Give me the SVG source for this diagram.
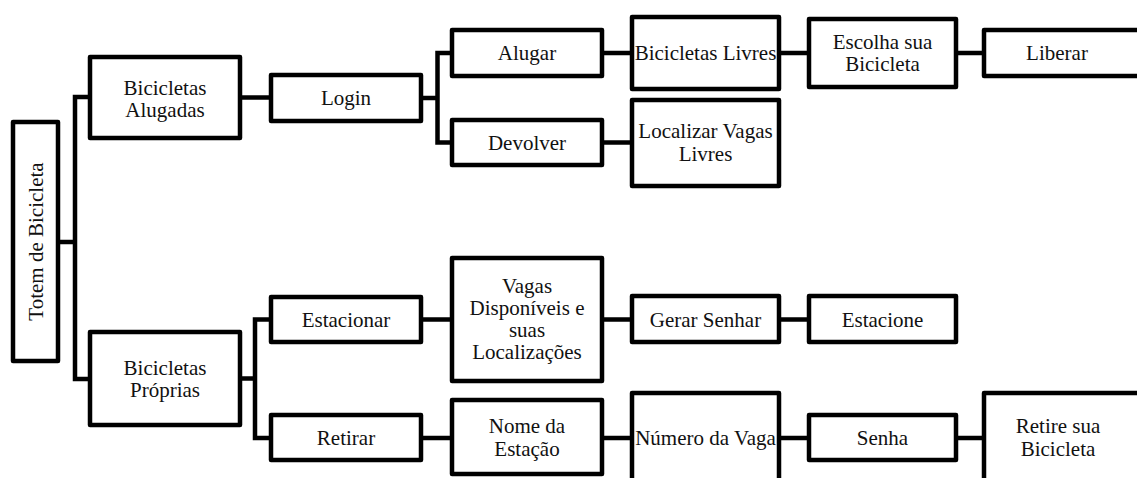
<svg xmlns="http://www.w3.org/2000/svg" width="1137" height="478" viewBox="0 0 1137 478">
  <style>
    .box { fill: #fff; stroke: #000; stroke-width: 4.5; stroke-linejoin: round; }
    .wire { fill: none; stroke: #000; stroke-width: 4.5; stroke-linejoin: miter; }
    .lbl { font-size: 21px; fill: #111; text-anchor: middle; }
  </style>
  <rect width="1137" height="478" fill="#fff"/>

  <!-- connectors -->
  <g id="connectors" class="wire">
    <path d="M60 242 H75 M88 97 H75 V379 H88"/>
    <path d="M242 97.5 H269"/>
    <path d="M423 98 H437.5 M450 53 H437.5 V142.5 H450"/>
    <path d="M604 53 H630 M781 53 H807 M958 53 H982"/>
    <path d="M604 142.5 H630"/>
    <path d="M242 378.5 H255 M269 319.5 H255 V438 H269"/>
    <path d="M423 319.5 H450 M604 319.5 H630 M781 319.5 H807"/>
    <path d="M423 438 H450 M604 438 H630 M781 438 H807 M958 438 H982"/>
  </g>

  <g class="lbl" font-family="'Liberation Serif', 'DejaVu Serif', serif">
  <!-- root -->
  <g id="totem">
    <rect class="box" x="13" y="122" width="45" height="239"/>
    <text transform="translate(43 241.5) rotate(-90)" x="0" y="0">Totem de Bicicleta</text>
  </g>

  <!-- rented bikes branch -->
  <g id="alugadas">
    <rect class="box" x="90" y="57" width="150" height="81"/>
    <text x="165" y="94.5">Bicicletas</text>
    <text x="165" y="117">Alugadas</text>
  </g>
  <g id="login">
    <rect class="box" x="271" y="75" width="150" height="46"/>
    <text x="346" y="105">Login</text>
  </g>
  <g id="alugar">
    <rect class="box" x="452" y="30" width="150" height="46"/>
    <text x="527" y="60">Alugar</text>
  </g>
  <g id="devolver">
    <rect class="box" x="452" y="120" width="150" height="45"/>
    <text x="527" y="149.5">Devolver</text>
  </g>
  <g id="bicicletas-livres">
    <rect class="box" x="632" y="17" width="147" height="72"/>
    <text x="705.5" y="60">Bicicletas Livres</text>
  </g>
  <g id="escolha">
    <rect class="box" x="809" y="19" width="147" height="68"/>
    <text x="882.5" y="48.5">Escolha sua</text>
    <text x="882.5" y="71">Bicicleta</text>
  </g>
  <g id="liberar">
    <rect class="box" x="984" y="30" width="170" height="46"/>
    <text x="1057" y="60">Liberar</text>
  </g>
  <g id="localizar">
    <rect class="box" x="632" y="100" width="147" height="86"/>
    <text x="705.5" y="138">Localizar Vagas</text>
    <text x="705.5" y="160.5">Livres</text>
  </g>

  <!-- own bikes branch -->
  <g id="proprias">
    <rect class="box" x="90" y="332" width="150" height="93"/>
    <text x="165" y="374.5">Bicicletas</text>
    <text x="165" y="397">Próprias</text>
  </g>
  <g id="estacionar">
    <rect class="box" x="271" y="297" width="150" height="45"/>
    <text x="346" y="326.5">Estacionar</text>
  </g>
  <g id="retirar">
    <rect class="box" x="271" y="415" width="150" height="45"/>
    <text x="346" y="445">Retirar</text>
  </g>
  <g id="vagas">
    <rect class="box" x="452" y="258" width="150" height="123"/>
    <text x="527" y="293">Vagas</text>
    <text x="527" y="315">Disponíveis e</text>
    <text x="527" y="337">suas</text>
    <text x="527" y="359">Localizações</text>
  </g>
  <g id="nome-estacao">
    <rect class="box" x="452" y="400" width="150" height="74"/>
    <text x="527" y="433">Nome da</text>
    <text x="527" y="455.5">Estação</text>
  </g>
  <g id="gerar-senha">
    <rect class="box" x="632" y="296" width="147" height="46"/>
    <text x="705.5" y="326.5">Gerar Senhar</text>
  </g>
  <g id="estacione">
    <rect class="box" x="809" y="296" width="147" height="46"/>
    <text x="882.5" y="326.5">Estacione</text>
  </g>
  <g id="numero-vaga">
    <rect class="box" x="632" y="393" width="147" height="100"/>
    <text x="705.5" y="445">Número da Vaga</text>
  </g>
  <g id="senha">
    <rect class="box" x="809" y="415" width="147" height="45"/>
    <text x="882.5" y="445">Senha</text>
  </g>
  <g id="retire">
    <rect class="box" x="984" y="393" width="170" height="100"/>
    <text x="1058" y="433">Retire sua</text>
    <text x="1058" y="455.5">Bicicleta</text>
  </g>
  </g>
</svg>
